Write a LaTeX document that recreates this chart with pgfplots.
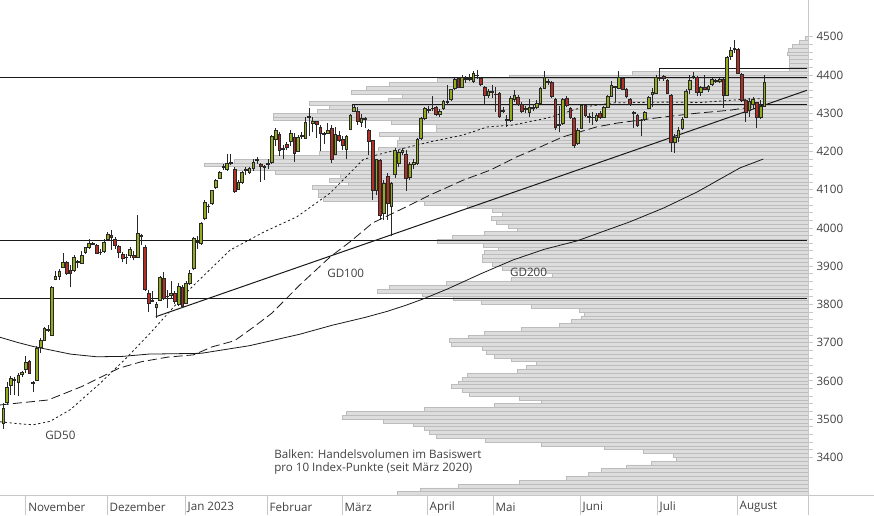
\documentclass[border=0pt]{standalone}
\usepackage{fontspec}
\setmainfont{Open Sans}
\usepackage{pgfplots}
\usepackage{pgfplotstable}
\pgfplotsset{compat=1.18}

\definecolor{upcol}{RGB}{146,172,30}
\definecolor{dncol}{RGB}{180,48,38}
\definecolor{wickcol}{RGB}{40,40,40}
\definecolor{volfill}{RGB}{221,221,221}
\definecolor{voldraw}{RGB}{188,188,188}
\definecolor{axcol}{RGB}{200,200,200}
\definecolor{txtcol}{RGB}{64,64,64}

% daily candles: trading day index, open, high, low, close
\pgfplotstableread{
d o h l c
0 3490 3543 3474 3527
1 3543 3597 3537 3584
2 3589 3612 3563 3607
3 3600 3609 3563 3604
4 3597 3620 3560 3615
5 3618 3627 3610 3621
6 3631 3665 3620 3649
7 3652 3655 3618 3620
8 3596 3600 3570 3594
9 3602 3690 3600 3686
10 3688 3712 3673 3707
11 3707 3742 3703 3738
12 3735 3745 3728 3733
13 3720 3848 3717 3845
14 3866 3886 3863 3872
15 3872 3892 3865 3887
16 3898 3934 3898 3911
17 3911 3913 3877 3880
18 3890 3903 3845 3880
19 3890 3928 3885 3924
20 3910 3917 3895 3912
21 3908 3940 3906 3929
22 3937 3950 3932 3948
23 3948 3970 3946 3960
24 3960 3963 3955 3958
25 3955 3958 3932 3934
26 3935 3944 3930 3937
27 3938 3970 3935 3963
28 3971 3990 3965 3984
29 3980 3995 3942 3976
30 3971 3975 3945 3955
31 3953 3955 3920 3937
32 3932 3938 3910 3921
33 3922 3932 3905 3924
34 3927 3950 3920 3945
35 3929 3940 3915 3924
36 3924 4033 3920 3987
37 3980 3985 3955 3978
38 3950 3955 3835 3838
39 3830 3838 3780 3803
40 3808 3835 3805 3810
41 3793 3805 3765 3800
42 3811 3875 3808 3870
43 3869 3885 3812 3817
44 3820 3838 3790 3822
45 3823 3860 3815 3830
46 3830 3835 3800 3808
47 3801 3855 3795 3848
48 3845 3850 3790 3796
49 3803 3860 3800 3856
50 3856 3890 3850 3882
51 3893 3975 3890 3973
52 3965 3980 3945 3962
53 3960 4015 3955 4012
54 4026 4072 4020 4067
55 4056 4062 4040 4057
56 4063 4100 4060 4097
57 4105 4128 4102 4123
58 4130 4150 4128 4146
59 4158 4168 4152 4160
60 4154 4192 4150 4170
61 4172 4192 4165 4168
62 4154 4158 4092 4095
63 4102 4125 4100 4118
64 4120 4150 4115 4146
65 4150 4158 4138 4152
66 4145 4160 4140 4155
67 4156 4180 4150 4172
68 4176 4185 4168 4178
69 4165 4170 4120 4160
70 4162 4165 4125 4158
71 4165 4180 4155 4170
72 4172 4243 4168 4240
73 4232 4262 4215 4256
74 4245 4250 4188 4204
75 4206 4218 4180 4208
76 4219 4225 4205 4211
77 4225 4255 4215 4248
78 4238 4248 4172 4196
79 4201 4242 4198 4238
80 4240 4250 4232 4242
81 4235 4290 4233 4277
82 4290 4313 4240 4292
83 4274 4290 4250 4279
84 4278 4280 4235 4270
85 4264 4270 4200 4248
86 4246 4250 4220 4245
87 4248 4275 4245 4256
88 4261 4270 4170 4178
89 4193 4265 4190 4245
90 4243 4253 4225 4230
91 4232 4240 4205 4215
92 4206 4242 4180 4240
93 4258 4298 4255 4293
94 4305 4322 4302 4314
95 4305 4315 4268 4278
96 4276 4298 4265 4287
97 4286 4290 4260 4284
98 4256 4258 4190 4227
99 4228 4230 4073 4099
100 4099 4180 4085 4178
101 4176 4180 4020 4034
102 4039 4125 4020 4117
103 4135 4143 4021 4065
104 4055 4120 3978 4117
105 4141 4210 4130 4204
106 4170 4205 4160 4198
107 4198 4210 4190 4202
108 4191 4204 4096 4130
109 4133 4172 4125 4165
110 4165 4180 4155 4172
111 4169 4235 4165 4232
112 4235 4290 4230 4287
113 4287 4316 4282 4313
114 4310 4318 4300 4308
115 4312 4345 4305 4313
116 4316 4320 4292 4298
117 4298 4310 4290 4305
118 4313 4335 4308 4332
119 4329 4374 4322 4331
120 4337 4364 4333 4361
121 4366 4393 4360 4389
122 4392 4395 4365 4368
123 4368 4400 4365 4394
124 4390 4397 4380 4388
125 4390 4402 4383 4388
126 4382 4410 4378 4405
127 4400 4413 4390 4398
128 4392 4395 4372 4376
129 4368 4372 4321 4347
130 4347 4362 4340 4358
131 4358 4375 4340 4355
132 4350 4368 4303 4348
133 4353 4356 4288 4292
134 4308 4315 4300 4306
135 4282 4295 4265 4284
136 4282 4345 4278 4340
137 4337 4360 4330 4347
138 4342 4348 4320 4324
139 4324 4330 4300 4306
140 4310 4318 4300 4312
141 4303 4337 4290 4316
142 4313 4325 4305 4315
143 4316 4335 4312 4326
144 4326 4368 4324 4366
145 4366 4410 4362 4394
146 4383 4390 4375 4381
147 4381 4384 4340 4345
148 4337 4340 4255 4264
149 4269 4320 4250 4271
150 4274 4340 4270 4337
151 4340 4345 4315 4321
152 4313 4316 4285 4290
153 4287 4290 4210 4217
154 4222 4260 4218 4256
155 4261 4325 4258 4321
156 4321 4325 4290 4295
157 4290 4300 4275 4292
158 4288 4302 4270 4290
159 4282 4300 4278 4295
160 4300 4305 4285 4290
161 4290 4320 4288 4316
162 4316 4348 4314 4345
163 4345 4385 4343 4374
164 4370 4372 4330 4368
165 4366 4410 4362 4394
166 4392 4395 4360 4363
167 4361 4365 4340 4345
168 4337 4340 4320 4324
169 4300 4305 4260 4302
170 4295 4298 4265 4269
171 4280 4285 4240 4282
172 4284 4306 4280 4303
173 4313 4345 4310 4342
174 4349 4366 4316 4355
175 4353 4400 4350 4394
176 4394 4415 4385 4392
177 4397 4400 4385 4391
178 4387 4390 4350 4353
179 4347 4350 4198 4224
180 4224 4245 4195 4237
181 4237 4265 4225 4256
182 4259 4290 4255 4285
183 4290 4362 4287 4358
184 4363 4400 4350 4387
185 4397 4408 4390 4395
186 4394 4397 4345 4355
187 4355 4372 4345 4368
188 4368 4400 4360 4363
189 4361 4375 4355 4371
190 4376 4392 4372 4389
191 4384 4390 4380 4386
192 4382 4392 4378 4389
193 4389 4392 4313 4347
194 4347 4450 4345 4447
195 4448 4472 4440 4465
196 4470 4491 4458 4468
197 4468 4470 4402 4405
198 4402 4405 4330 4334
199 4334 4336 4277 4303
200 4308 4340 4290 4332
201 4324 4342 4310 4337
202 4327 4330 4261 4290
203 4290 4335 4285 4318
204 4318 4400 4315 4381
}\candles

% volume per 10 index points (bar length, arbitrary units), bin lower edge
\pgfplotstableread{
lo vol
3300 411
3310 388
3320 350
3330 289
3340 242
3350 220
3360 207
3370 182
3380 157
3390 132
3400 135
3410 165
3420 204
3430 267
3440 323
3450 372
3460 379
3470 384
3480 395
3490 425
3500 466
3510 462
3520 384
3530 314
3540 267
3550 289
3560 339
3570 346
3580 357
3590 350
3600 346
3610 341
3620 291
3630 282
3640 272
3650 297
3660 314
3670 322
3680 326
3690 357
3700 359
3710 340
3720 324
3730 287
3740 249
3750 237
3760 227
3770 224
3780 229
3790 277
3800 327
3810 355
3820 386
3830 431
3840 419
3850 362
3860 297
3870 256
3880 262
3890 306
3900 316
3910 326
3920 326
3930 324
3940 310
3950 325
3960 371
3970 356
3980 324
3990 291
4000 300
4010 312
4020 317
4030 306
4040 316
4050 341
4060 384
4070 485
4080 490
4090 490
4100 496
4110 460
4120 479
4130 468
4140 533
4150 574
4160 604
4170 574
4180 535
4190 489
4200 430
4210 411
4220 411
4230 409
4240 429
4250 372
4260 372
4270 417
4280 535
4290 535
4300 491
4310 479
4320 499
4330 420
4340 406
4350 457
4360 442
4370 419
4380 371
4390 299
4400 176
4410 19
4420 19
4430 19
4440 19
4450 21
4460 20
4470 16
4480 9
4490 3
}\volume

\pgfdeclareplotmark{blank}{}
\pgfplotsset{
  candle/.style={
    scatter, only marks, mark=blank,
    visualization depends on={\thisrow{o} \as \candO},
    visualization depends on={\thisrow{h} \as \candH},
    visualization depends on={\thisrow{l} \as \candL},
    visualization depends on={\thisrow{c} \as \candC},
    scatter/@pre marker code/.code={%
      \pgfkeys{/pgf/fpu=true, /pgf/fpu/output format=fixed}%
      \pgfmathsetmacro\dH{\candH-\candO}%
      \pgfmathsetmacro\dL{\candL-\candO}%
      \pgfmathsetmacro\dC{\candC-\candO}%
      \pgfkeys{/pgf/fpu=false}%
      \ifdim\dC pt<0pt \def\bodycol{dncol}\else\def\bodycol{upcol}\fi
      \draw[wickcol, line width=0.9pt] (axis direction cs:0,\dL) -- (axis direction cs:0,\dH);
      \filldraw[fill=\bodycol, draw=wickcol, line width=0.75pt]
        (axis direction cs:-0.36,0) rectangle (axis direction cs:0.36,\dC);
    },
    scatter/@post marker code/.code={},
  },
  frame/.style={
    at={(0pt,20pt)}, anchor=south west,
    scale only axis, width=808.7pt, height=495pt,
    ymin=3301.5, ymax=4596,
  },
}

\begin{document}
\begin{tikzpicture}[x=1pt,y=1pt]
\useasboundingbox (0,0) rectangle (874,515);

% volume profile, growing from the right edge
\begin{axis}[frame, axis lines=none,
  x dir=reverse, xmin=0, xmax=808.7]
\addplot[xbar, bar width=10, bar shift=0pt, fill=volfill, draw=voldraw, line width=0.7pt]
  table[x=vol, y expr=\thisrow{lo}+5] {\volume};
\end{axis}

\begin{axis}[frame, xmin=-0.885, xmax=215.9, clip=false,
  axis x line=none, axis y line*=right,
  axis line style={draw=none},
  ytick={3400,3500,...,4500}, minor y tick num=4,
  tick align=outside, major tick length=4.7pt, minor tick length=4pt,
  tick style={draw=axcol, line width=0.8pt},
  yticklabel style={font=\fontsize{11.6}{13}\selectfont, text=txtcol, anchor=west, inner sep=0pt, xshift=3pt},
  /pgf/number format/.cd, 1000 sep={}, assume math mode=true]

% horizontal levels
\addplot[black!90, line width=1pt] coordinates {(-0.885,4394) (215.4,4394)};
\addplot[black!90, line width=1pt] coordinates {(-0.885,3966) (215.4,3966)};
\addplot[black!90, line width=1pt] coordinates {(-0.885,3816) (215.4,3816)};
\addplot[black!90, line width=1pt] coordinates {(93.6,4308) (93.6,4324) (215.4,4324)};
\addplot[black!90, line width=1pt] coordinates {(176,4394) (176,4417) (215.4,4417)};

% trend line
\addplot[black!90, line width=1pt] coordinates {(40.9,3767.8) (215.4,4359.8)};

% GD200
\addplot[black!90, line width=0.8pt] coordinates {
(-0.885,3714) (4,3700) (8,3690) (12,3682) (18,3670) (25,3663) (32,3664) (39,3670)
(53,3672) (66,3692) (79.5,3722) (88,3745) (97,3766) (103,3782) (108,3798)
(112.5,3814) (119,3840) (128,3880) (136.6,3916) (145,3944) (153.8,3966) (160,3988)
(168,4016) (177,4052) (186,4094) (192,4127) (197.5,4157) (203.7,4180)};

% GD100
\addplot[black!90, line width=0.8pt, dash pattern=on 9pt off 4pt] coordinates {
(-0.885,3537) (12,3550) (21,3585) (31,3633) (37,3650) (44,3662) (51,3668) (56,3689)
(62,3705) (67,3740) (72,3777) (79.5,3851) (87.6,3924) (93,3964) (99,4013) (108,4055)
(114.4,4086) (123.3,4125) (130.5,4151) (137.7,4186) (144,4212) (150,4238) (159,4264)
(164.5,4274) (177,4290) (186,4300) (195,4308) (203.7,4321)};

% GD50
\addplot[black!90, line width=0.8pt, dash pattern=on 2.2pt off 2.6pt] coordinates {
(-0.885,3493) (4,3488) (8,3485) (12.5,3494) (18,3525) (26,3594) (33,3660) (39.3,3724)
(50,3840) (60.8,3942) (70,3990) (78.7,4029) (87.6,4091) (96.4,4178) (100.2,4191)
(105.5,4204) (114.4,4225) (123.3,4243) (129.7,4264) (136.6,4269) (145.7,4287)
(155.4,4316) (163.5,4327) (177,4329) (187,4328) (199.4,4337) (204,4338)};

% candles
\addplot[candle] table[x=d, y=o] {\candles};

\node[anchor=west, text=txtcol, font=\fontsize{11.6}{13}\selectfont, inner sep=0pt] at (axis cs:11.2,3458) {GD50};
\node[anchor=west, text=txtcol, font=\fontsize{11.6}{13}\selectfont, inner sep=0pt] at (axis cs:86.8,3882) {GD100};
\node[anchor=west, text=txtcol, font=\fontsize{11.6}{13}\selectfont, inner sep=0pt] at (axis cs:135.8,3885) {GD200};
\node[anchor=west, align=left, text=txtcol, font=\fontsize{11.6}{13}\selectfont, inner sep=0pt] at (axis cs:72.6,3389)
  {Balken: Handelsvolumen im Basiswert\\pro 10 Index-Punkte (seit März 2020)};
\end{axis}

% axis lines and month separators
\draw[axcol, line width=0.8pt] (808.7,0) -- (808.7,515);
\draw[axcol, line width=0.8pt] (0,20) -- (874,20);
\foreach \x/\m in {25.7/November, 107/Dezember, 185/Jan 2023, 267/Februar, 342/März,
                   427/April, 493/Mai, 580/Juni, 657/Juli, 737/August} {
  \draw[axcol, line width=0.8pt] (\x,0) -- (\x,20);
  \node[anchor=west, inner sep=0pt, text=txtcol, font=\fontsize{11.6}{13}\selectfont] at (\x+2.5,8) {\m};
}
\end{tikzpicture}
\end{document}
